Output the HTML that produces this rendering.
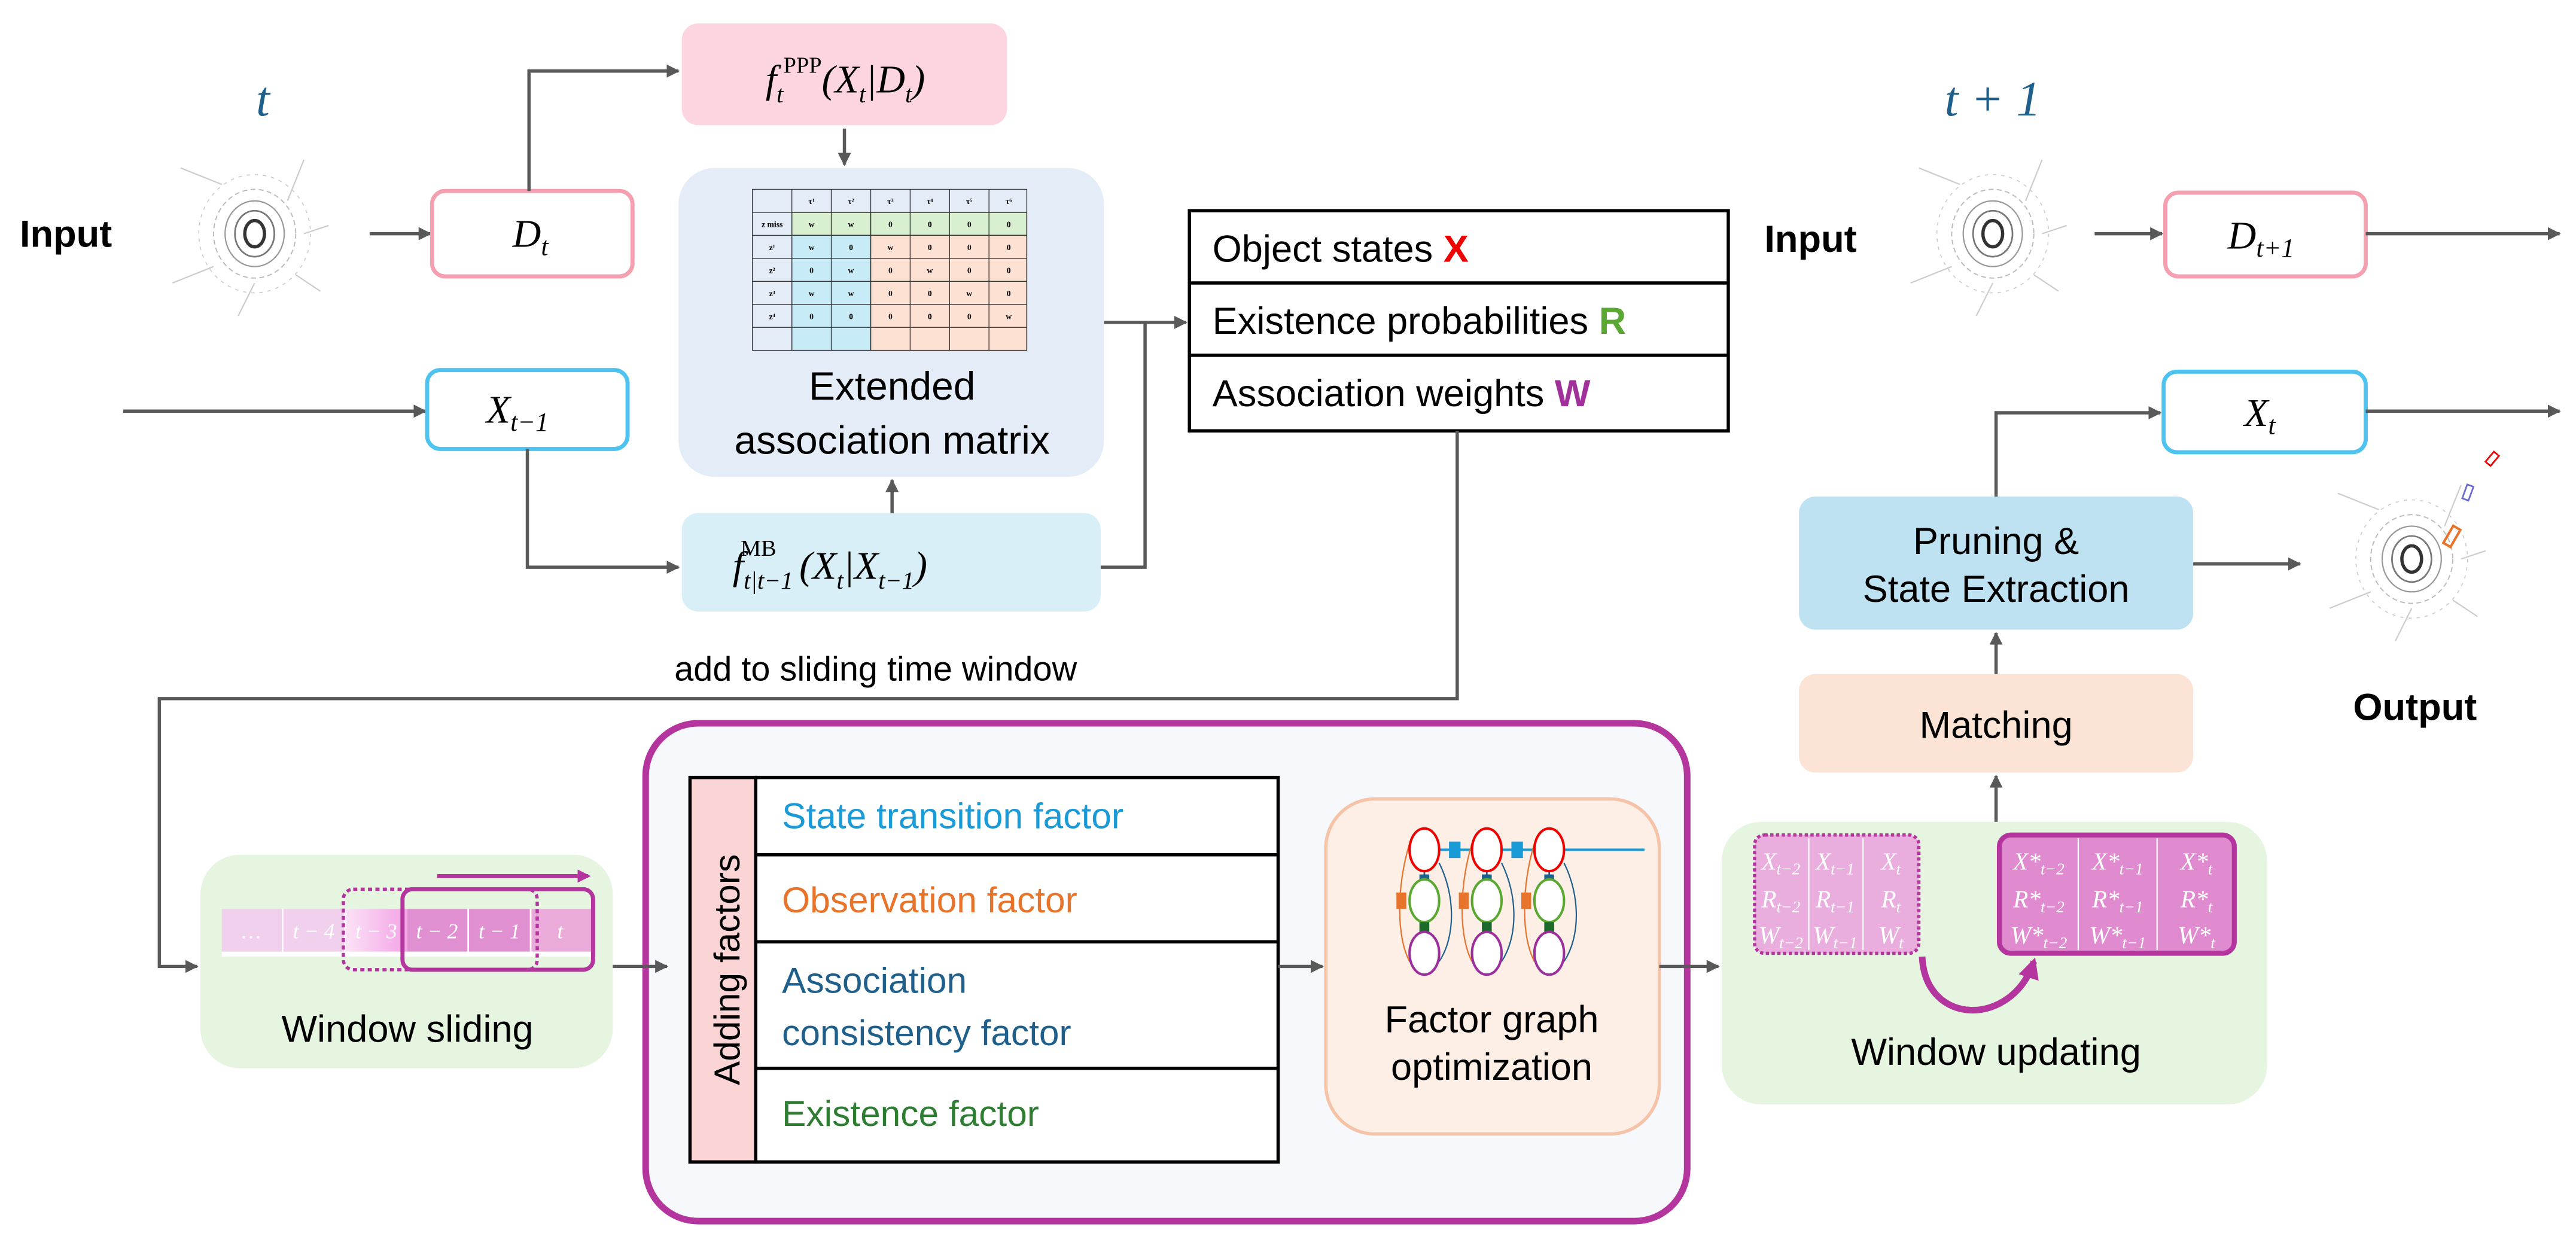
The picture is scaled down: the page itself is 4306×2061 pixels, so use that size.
<!DOCTYPE html>
<html><head><meta charset="utf-8"><style>
html,body{margin:0;padding:0;background:#fff}
svg{display:block}
.s{font-family:"Liberation Sans",Arial,sans-serif}
.m{font-family:"Liberation Serif","DejaVu Serif",serif;font-style:italic}
</style></head><body>
<svg width="4306" height="2061" viewBox="0 0 1568 750" xmlns="http://www.w3.org/2000/svg">
<defs>
<marker id="ah" viewBox="0 0 10 10" refX="9" refY="5" markerWidth="4" markerHeight="4" orient="auto"><path d="M0,0L10,5L0,10z" fill="#595959"/></marker>
<marker id="ap" viewBox="0 0 10 10" refX="8" refY="5" markerWidth="3.2" markerHeight="3.2" orient="auto"><path d="M0,0L10,5L0,10z" fill="#b5359f"/></marker>
<linearGradient id="g3" x1="0" x2="1"><stop offset="0" stop-color="#fbe3f6"/><stop offset="1" stop-color="#f4a3e6"/></linearGradient>
<g id="pc">
<ellipse cx="0" cy="0" rx="6" ry="8" fill="none" stroke="#333" stroke-width="2"/>
<ellipse cx="0" cy="0" rx="12" ry="14" fill="none" stroke="#777" stroke-width="1"/>
<ellipse cx="0" cy="0" rx="18" ry="20" fill="none" stroke="#999" stroke-width=".8"/>
<ellipse cx="0" cy="0" rx="25" ry="27" fill="none" stroke="#bbb" stroke-width=".7" stroke-dasharray="3 2"/>
<ellipse cx="0" cy="0" rx="34" ry="36" fill="none" stroke="#ccc" stroke-width=".6" stroke-dasharray="2 3"/>
<path d="M-45,-40L-20,-30M30,-45L20,-20M-50,30L-25,20M40,35L25,25M-10,50L0,30M45,-5L30,0" stroke="#ccc" stroke-width=".8"/>
</g>
</defs>

<!-- top left -->
<text x="160" y="70" class="m" font-size="30" fill="#1f5f8b" text-anchor="middle">t</text>
<use href="#pc" x="155" y="142"/>
<text x="12" y="150" class="s" font-size="23" font-weight="bold">Input</text>

<line x1="225" y1="142" x2="262" y2="142" stroke="#595959" stroke-width="2" marker-end="url(#ah)"/>
<rect x="263" y="116" width="122" height="52" rx="8" fill="#fff" stroke="#f4a0b0" stroke-width="2.5"/>
<text x="312" y="150" class="m" font-size="24">D<tspan font-size="16" dy="5">t</tspan></text>

<polyline points="322,116 322,43 413,43" fill="none" stroke="#595959" stroke-width="2" marker-end="url(#ah)"/>
<rect x="415" y="14" width="198" height="62" rx="10" fill="#fdd5e0"/>
<text x="466" y="56" class="m" font-size="24">f<tspan font-size="15" dy="6">t</tspan><tspan font-size="14" dy="-18" font-style="normal">PPP</tspan><tspan dy="12">(X</tspan><tspan font-size="15" dy="6">t</tspan><tspan dy="-6">|D</tspan><tspan font-size="15" dy="6">t</tspan><tspan dy="-6">)</tspan></text>
<line x1="514" y1="78" x2="514" y2="100" stroke="#595959" stroke-width="2" marker-end="url(#ah)"/>

<rect x="413" y="102" width="259" height="188" rx="22" fill="#e4ecf7"/>
<!-- matrix -->
<g stroke="#333" stroke-width=".5">
<rect x="482" y="129" width="48" height="14" fill="#d8f0d0"/>
<rect x="530" y="129" width="95" height="14" fill="#d8f0d0"/>
<rect x="482" y="143" width="48" height="70" fill="#c8ebf8"/>
<rect x="530" y="143" width="95" height="70" fill="#fde2d4"/>
<rect x="458" y="115" width="167" height="98" fill="none"/>
<path d="M458,129H625M458,143H625M458,157H625M458,171H625M458,185H625M458,199H625M482,115V213M506,115V213M530,115V213M554,115V213M578,115V213M602,115V213"/>
</g>
<g font-family="Liberation Serif,serif" font-size="5" text-anchor="middle" font-weight="bold">
<text x="494" y="124">τ¹</text><text x="518" y="124">τ²</text><text x="542" y="124">τ³</text><text x="566" y="124">τ⁴</text><text x="590" y="124">τ⁵</text><text x="614" y="124">τ⁶</text>
<text x="470" y="138">z miss</text><text x="470" y="152">z¹</text><text x="470" y="166">z²</text><text x="470" y="180">z³</text><text x="470" y="194">z⁴</text>
<text x="494" y="138">w</text><text x="518" y="138">w</text><text x="542" y="138">0</text><text x="566" y="138">0</text><text x="590" y="138">0</text><text x="614" y="138">0</text>
<text x="494" y="152">w</text><text x="518" y="152">0</text><text x="542" y="152">w</text><text x="566" y="152">0</text><text x="590" y="152">0</text><text x="614" y="152">0</text>
<text x="494" y="166">0</text><text x="518" y="166">w</text><text x="542" y="166">0</text><text x="566" y="166">w</text><text x="590" y="166">0</text><text x="614" y="166">0</text>
<text x="494" y="180">w</text><text x="518" y="180">w</text><text x="542" y="180">0</text><text x="566" y="180">0</text><text x="590" y="180">w</text><text x="614" y="180">0</text>
<text x="494" y="194">0</text><text x="518" y="194">0</text><text x="542" y="194">0</text><text x="566" y="194">0</text><text x="590" y="194">0</text><text x="614" y="194">w</text>
</g>
<text x="543" y="243" class="s" font-size="24" text-anchor="middle">Extended</text>
<text x="543" y="276" class="s" font-size="24" text-anchor="middle">association matrix</text>

<line x1="543" y1="312" x2="543" y2="292" stroke="#595959" stroke-width="2" marker-end="url(#ah)"/>
<rect x="415" y="312" width="255" height="60" rx="10" fill="#d8eff8"/>
<text x="446" y="352" class="m" font-size="24">f<tspan font-size="15" dy="6">t|t−1</tspan><tspan font-size="14" dy="-20" dx="-32" font-style="normal">MB</tspan><tspan dy="14" dx="14">(X</tspan><tspan font-size="15" dy="6">t</tspan><tspan dy="-6">|X</tspan><tspan font-size="15" dy="6">t−1</tspan><tspan dy="-6">)</tspan></text>

<line x1="75" y1="250" x2="259" y2="250" stroke="#595959" stroke-width="2" marker-end="url(#ah)"/>
<rect x="260" y="225" width="122" height="48" rx="8" fill="#fff" stroke="#4fc3f0" stroke-width="2.5"/>
<text x="296" y="257" class="m" font-size="24">X<tspan font-size="16" dy="5">t−1</tspan></text>
<polyline points="321,273 321,345 413,345" fill="none" stroke="#595959" stroke-width="2" marker-end="url(#ah)"/>

<polyline points="672,196 722,196" fill="none" stroke="#595959" stroke-width="2" marker-end="url(#ah)"/>
<polyline points="670,345 697,345 697,196" fill="none" stroke="#595959" stroke-width="2"/>

<!-- output table -->
<rect x="724" y="128" width="328" height="134" fill="#fff" stroke="#000" stroke-width="2"/>
<line x1="724" y1="172" x2="1052" y2="172" stroke="#000" stroke-width="2"/>
<line x1="724" y1="216" x2="1052" y2="216" stroke="#000" stroke-width="2"/>
<text x="738" y="159" class="s" font-size="23">Object states <tspan fill="#e00" font-weight="bold">X</tspan></text>
<text x="738" y="203" class="s" font-size="23">Existence probabilities <tspan fill="#5aa832" font-weight="bold">R</tspan></text>
<text x="738" y="247" class="s" font-size="23">Association weights <tspan fill="#a0309a" font-weight="bold">W</tspan></text>

<polyline points="887,262 887,425 97,425 97,588 120,588" fill="none" stroke="#595959" stroke-width="2" marker-end="url(#ah)"/>
<text x="533" y="414" class="s" font-size="21" text-anchor="middle">add to sliding time window</text>

<!-- window sliding -->
<rect x="122" y="520" width="251" height="130" rx="24" fill="#e6f5e0"/>
<rect x="135" y="553" width="75" height="26" fill="#f0d0ec"/>
<rect x="210" y="553" width="38" height="26" fill="url(#g3)"/>
<rect x="248" y="553" width="75" height="26" fill="#e08fd0"/>
<rect x="323" y="553" width="37" height="26" fill="#eaaada"/>
<path d="M172,553V579M210,553V579M285,553V579M323,553V579" stroke="#fff" stroke-width="1"/>
<rect x="135" y="579" width="225" height="3" fill="#fff"/>
<g class="m" font-size="13" fill="#fff" text-anchor="middle">
<text x="153" y="571">…</text><text x="191" y="571">t − 4</text><text x="229" y="571">t − 3</text><text x="266" y="571">t − 2</text><text x="304" y="571">t − 1</text><text x="341" y="571">t</text></g>
<rect x="209" y="541" width="118" height="49" rx="6" fill="none" stroke="#b5359f" stroke-width="2" stroke-dasharray="2.5 2"/>
<rect x="245" y="541" width="116" height="49" rx="6" fill="none" stroke="#b5359f" stroke-width="2.5"/>
<line x1="266" y1="533" x2="358" y2="533" stroke="#b5359f" stroke-width="2.5" marker-end="url(#ap)"/>
<text x="248" y="634" class="s" font-size="23" text-anchor="middle">Window sliding</text>

<!-- big purple box -->
<rect x="393" y="440" width="634" height="303" rx="32" fill="#f7f8fc" stroke="#b5359f" stroke-width="4"/>
<line x1="373" y1="588" x2="406" y2="588" stroke="#595959" stroke-width="2" marker-end="url(#ah)"/>
<rect x="420" y="473" width="40" height="234" fill="#fbd5d5" stroke="#000" stroke-width="2"/>
<rect x="460" y="473" width="318" height="234" fill="#fff" stroke="#000" stroke-width="2"/>
<path d="M460,520H778M460,573H778M460,650H778" stroke="#000" stroke-width="2"/>
<text transform="translate(450,590) rotate(-90)" class="s" font-size="22" text-anchor="middle">Adding factors</text>
<text x="476" y="504" class="s" font-size="22" fill="#1a9ad6">State transition factor</text>
<text x="476" y="555" class="s" font-size="22" fill="#e8732a">Observation factor</text>
<text x="476" y="604" class="s" font-size="22" fill="#1f5f8b">Association</text>
<text x="476" y="636" class="s" font-size="22" fill="#1f5f8b">consistency factor</text>
<text x="476" y="685" class="s" font-size="22" fill="#2e7d32">Existence factor</text>

<line x1="778" y1="588" x2="805" y2="588" stroke="#595959" stroke-width="2" marker-end="url(#ah)"/>
<rect x="807" y="486" width="203" height="204" rx="30" fill="#fdeee6" stroke="#f5c4a8" stroke-width="2"/>
<g>
<line x1="867" y1="517" x2="1001" y2="517" stroke="#1a9ad6" stroke-width="1.5"/>
<rect x="882" y="512" width="7" height="10" fill="#1a9ad6"/><rect x="920" y="512" width="7" height="10" fill="#1a9ad6"/>
<g id="col">
<line x1="867" y1="517" x2="867" y2="580" stroke="#1f5f8b" stroke-width="1"/>
<path d="M858,513 C850,540 850,570 858,585" fill="none" stroke="#e8732a" stroke-width=".8"/>
<path d="M876,525 C886,545 886,570 876,585" fill="none" stroke="#1f5f8b" stroke-width=".8"/>
<ellipse cx="867" cy="517" rx="9" ry="13" fill="#fff" stroke="#e00" stroke-width="1.5"/>
<rect x="864" y="532" width="6" height="10" fill="#1f5f8b"/>
<ellipse cx="867" cy="548" rx="9" ry="13" fill="#fff" stroke="#5aa832" stroke-width="1.5"/>
<rect x="850" y="543" width="6" height="10" fill="#e8732a"/>
<rect x="864" y="561" width="6" height="10" fill="#1a6b2a"/>
<ellipse cx="867" cy="580" rx="9" ry="13" fill="#fff" stroke="#9b2f9b" stroke-width="1.5"/>
</g>
<use href="#col" x="38"/><use href="#col" x="76"/>
</g>
<text x="908" y="628" class="s" font-size="23" text-anchor="middle">Factor graph</text>
<text x="908" y="657" class="s" font-size="23" text-anchor="middle">optimization</text>

<line x1="1010" y1="588" x2="1046" y2="588" stroke="#595959" stroke-width="2" marker-end="url(#ah)"/>

<!-- window updating -->
<rect x="1048" y="500" width="332" height="172" rx="24" fill="#e6f5e0"/>
<rect x="1068" y="508" width="100" height="72" rx="6" fill="#eaaede" stroke="#b5359f" stroke-width="2" stroke-dasharray="2 1.5"/>
<path d="M1101,510V578M1134,510V578" stroke="#fff" stroke-width=".8"/>
<rect x="1217" y="508" width="143" height="72" rx="7" fill="#e08ad0" stroke="#b5359f" stroke-width="3"/>
<path d="M1265,510V578M1313,510V578" stroke="#fff" stroke-width=".8"/>
<g class="m" font-size="15" fill="#fff" text-anchor="middle">
<text x="1084" y="529">X<tspan font-size="10" dy="3">t−2</tspan></text><text x="1117" y="529">X<tspan font-size="10" dy="3">t−1</tspan></text><text x="1151" y="529">X<tspan font-size="10" dy="3">t</tspan></text>
<text x="1084" y="552">R<tspan font-size="10" dy="3">t−2</tspan></text><text x="1117" y="552">R<tspan font-size="10" dy="3">t−1</tspan></text><text x="1151" y="552">R<tspan font-size="10" dy="3">t</tspan></text>
<text x="1084" y="574">W<tspan font-size="10" dy="3">t−2</tspan></text><text x="1117" y="574">W<tspan font-size="10" dy="3">t−1</tspan></text><text x="1151" y="574">W<tspan font-size="10" dy="3">t</tspan></text>
<text x="1241" y="529">X*<tspan font-size="10" dy="3">t−2</tspan></text><text x="1289" y="529">X*<tspan font-size="10" dy="3">t−1</tspan></text><text x="1337" y="529">X*<tspan font-size="10" dy="3">t</tspan></text>
<text x="1241" y="552">R*<tspan font-size="10" dy="3">t−2</tspan></text><text x="1289" y="552">R*<tspan font-size="10" dy="3">t−1</tspan></text><text x="1337" y="552">R*<tspan font-size="10" dy="3">t</tspan></text>
<text x="1241" y="574">W*<tspan font-size="10" dy="3">t−2</tspan></text><text x="1289" y="574">W*<tspan font-size="10" dy="3">t−1</tspan></text><text x="1337" y="574">W*<tspan font-size="10" dy="3">t</tspan></text>
</g>
<path d="M1170,582 C1172,625 1225,625 1238,585" fill="none" stroke="#b5359f" stroke-width="4" marker-end="url(#ap)"/>
<text x="1215" y="648" class="s" font-size="23" text-anchor="middle">Window updating</text>

<line x1="1215" y1="500" x2="1215" y2="472" stroke="#595959" stroke-width="2" marker-end="url(#ah)"/>
<rect x="1095" y="410" width="240" height="60" rx="10" fill="#fbe3d6"/>
<text x="1215" y="449" class="s" font-size="23" text-anchor="middle">Matching</text>
<line x1="1215" y1="410" x2="1215" y2="385" stroke="#595959" stroke-width="2" marker-end="url(#ah)"/>
<rect x="1095" y="302" width="240" height="81" rx="10" fill="#bfe2f3"/>
<text x="1215" y="337" class="s" font-size="23" text-anchor="middle">Pruning &amp;</text>
<text x="1215" y="366" class="s" font-size="23" text-anchor="middle">State Extraction</text>
<polyline points="1215,302 1215,251 1315,251" fill="none" stroke="#595959" stroke-width="2" marker-end="url(#ah)"/>
<rect x="1317" y="226" width="123" height="49" rx="8" fill="#fff" stroke="#4fc3f0" stroke-width="2.5"/>
<text x="1366" y="259" class="m" font-size="24">X<tspan font-size="16" dy="5">t</tspan></text>
<line x1="1440" y1="250" x2="1558" y2="250" stroke="#595959" stroke-width="2" marker-end="url(#ah)"/>
<line x1="1335" y1="343" x2="1400" y2="343" stroke="#595959" stroke-width="2" marker-end="url(#ah)"/>
<use href="#pc" x="1468" y="340"/>
<rect x="1490" y="320" width="5" height="12" fill="none" stroke="#e8732a" stroke-width="1.5" transform="rotate(30 1492 326)"/>
<rect x="1500" y="295" width="4" height="9" fill="none" stroke="#6a6ad0" stroke-width="1" transform="rotate(20 1502 300)"/>
<rect x="1515" y="275" width="4" height="8" fill="none" stroke="#e00" stroke-width="1" transform="rotate(40 1517 279)"/>
<text x="1470" y="438" class="s" font-size="23" font-weight="bold" text-anchor="middle">Output</text>

<!-- top right -->
<text x="1213" y="70" class="m" font-size="30" fill="#1f5f8b" text-anchor="middle">t + 1</text>
<use href="#pc" x="1213" y="142"/>
<text x="1074" y="153" class="s" font-size="23" font-weight="bold">Input</text>
<line x1="1275" y1="142" x2="1316" y2="142" stroke="#595959" stroke-width="2" marker-end="url(#ah)"/>
<rect x="1318" y="117" width="122" height="51" rx="8" fill="#fff" stroke="#f4a0b0" stroke-width="2.5"/>
<text x="1356" y="151" class="m" font-size="24">D<tspan font-size="16" dy="5">t+1</tspan></text>
<line x1="1440" y1="142" x2="1558" y2="142" stroke="#595959" stroke-width="2" marker-end="url(#ah)"/>
</svg>
</body></html>
